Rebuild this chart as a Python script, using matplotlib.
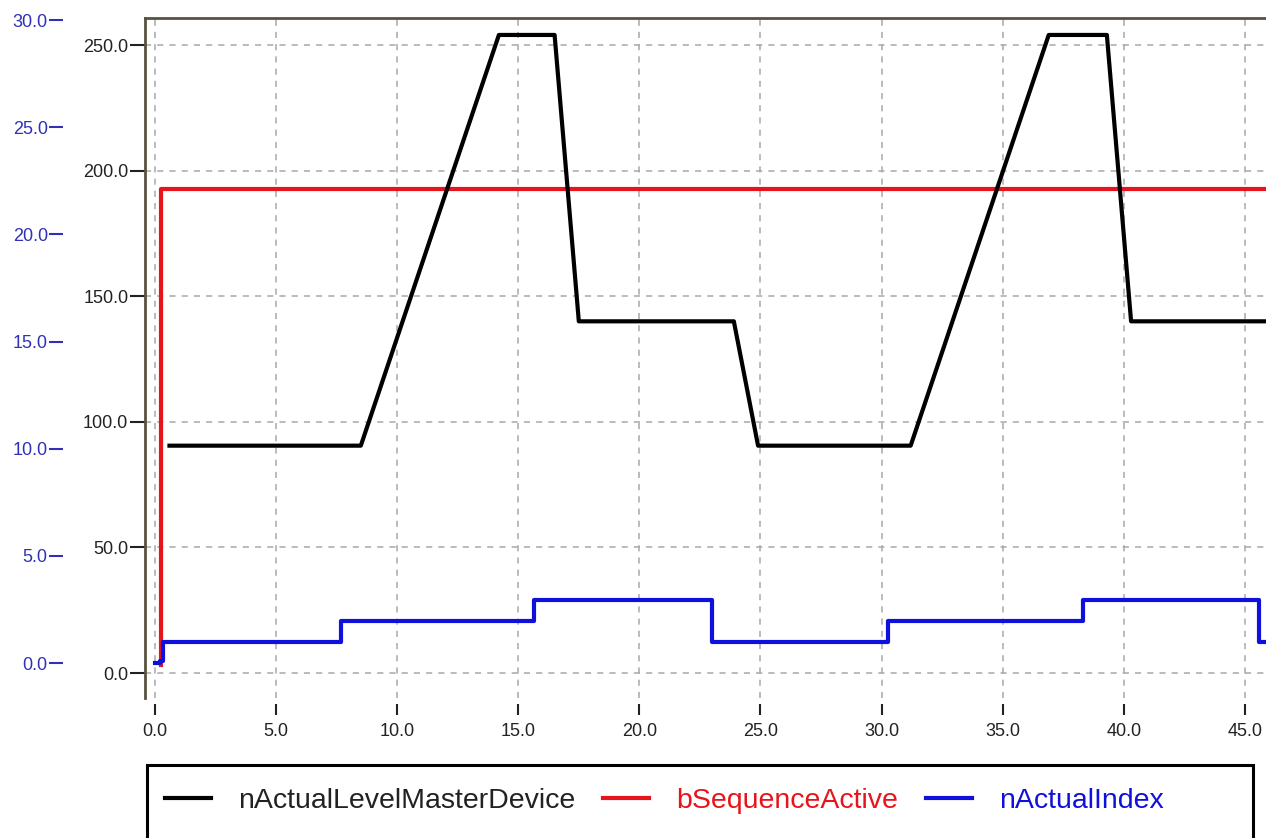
import matplotlib
matplotlib.use("Agg")
import matplotlib.pyplot as plt
from matplotlib.lines import Line2D
from matplotlib.patches import Rectangle

plt.rcParams["font.family"] = ["Liberation Sans", "DejaVu Sans"]

# ---------------------------------------------------------------------------
# Data
# ---------------------------------------------------------------------------
level_t = [0.6, 8.5, 14.2, 16.5, 17.5, 23.9, 24.9, 31.2, 36.9, 39.3, 40.3, 46.0]
level_v = [90.5, 90.5, 254.0, 254.0, 140.0, 140.0, 90.5, 90.5, 254.0, 254.0, 140.0, 140.0]

active_t = [0.25, 0.25, 46.0]
active_v = [3.0, 192.5, 192.5]

index_t = [0.0, 0.2, 0.35, 7.7, 15.65, 23.0, 30.25, 38.3, 45.6, 46.0]
index_v = [0, 0.1, 1, 1.95, 2.95, 1, 1.95, 2.95, 1, 1]

x_ticks = [0, 5, 10, 15, 20, 25, 30, 35, 40, 45]
level_ticks = [0, 50, 100, 150, 200, 250]
index_ticks = [0, 5, 10, 15, 20, 25, 30]

names = ["nActualLevelMasterDevice", "bSequenceActive", "nActualIndex"]
colors = ["#000000", "#e8141c", "#1010dc"]

W, H = 1266, 838
SPINE = "#57523f"

fig = plt.figure(figsize=(W / 100, H / 100), dpi=100)
ax = fig.add_axes([145 / W, 1 - 698 / H, 1 - 145 / W, (698 - 18) / H])

ax.plot(active_t, active_v, color=colors[1], lw=3, zorder=3)
ax.plot(level_t, level_v, color=colors[0], lw=3, zorder=4)

ax.set_xlim(-0.41, 45.87)
ax.set_ylim(-9.95, 260.75)
ax.set_xticks(x_ticks)
ax.set_xticklabels([f"{v:.1f}" for v in x_ticks])
ax.set_yticks(level_ticks)
ax.set_yticklabels([f"{v:.1f}" for v in level_ticks])
ax.grid(True, color="#a8a8a8", lw=1.1, linestyle=(0, (4, 4)))
ax.set_axisbelow(True)

for s in ["right", "bottom"]:
    ax.spines[s].set_visible(False)
for s in ["left", "top"]:
    ax.spines[s].set_color(SPINE)
    ax.spines[s].set_linewidth(2)
ax.spines["bottom"].set_position(("outward", 4))

ax.tick_params(axis="x", length=8, width=1.5, color="#222222", labelsize=13,
               labelcolor="#222222", pad=6)
ax.tick_params(axis="y", length=11, width=1.5, color="#222222", labelsize=13,
               labelcolor="#222222", pad=1)

# second y scale (nActualIndex) sitting far left, no spine line
ax2 = ax.twinx()
ax2.yaxis.set_label_position("left")
ax2.yaxis.tick_left()
ax2.plot(index_t, index_v, color=colors[2], lw=3, zorder=5,
         drawstyle="steps-post")
ax2.set_ylim(-1.63, 30.1)
ax2.set_yticks(index_ticks)
ax2.set_yticklabels([f"{v:.1f}" for v in index_ticks])
for s in ["right", "top", "bottom"]:
    ax2.spines[s].set_visible(False)
ax2.spines["left"].set_position(("outward", 59))
ax2.spines["left"].set_visible(False)
ax2.tick_params(axis="y", length=10, width=1.5, color="#3030b8", labelsize=13,
                labelcolor="#3030b8", pad=1)

# legend box at the bottom
fig.patches.append(Rectangle((147 / W, -0.05), (1253 - 147) / W, 0.05 + 1 - 765 / H,
                             transform=fig.transFigure, fill=False,
                             edgecolor="#000000", lw=2.2))
handles = [Line2D([], [], color=c, lw=3) for c in colors]
leg = fig.legend(handles, names, loc="center left", ncol=3, frameon=False,
                 bbox_to_anchor=(165 / W, 1 - 801 / H), borderpad=0,
                 borderaxespad=0, fontsize=20.5, handlelength=1.6,
                 handletextpad=0.95, columnspacing=1.0)
for txt, c in zip(leg.get_texts(), colors):
    txt.set_color(c if c != "#000000" else "#222222")

fig.savefig("out.png", dpi=100)
